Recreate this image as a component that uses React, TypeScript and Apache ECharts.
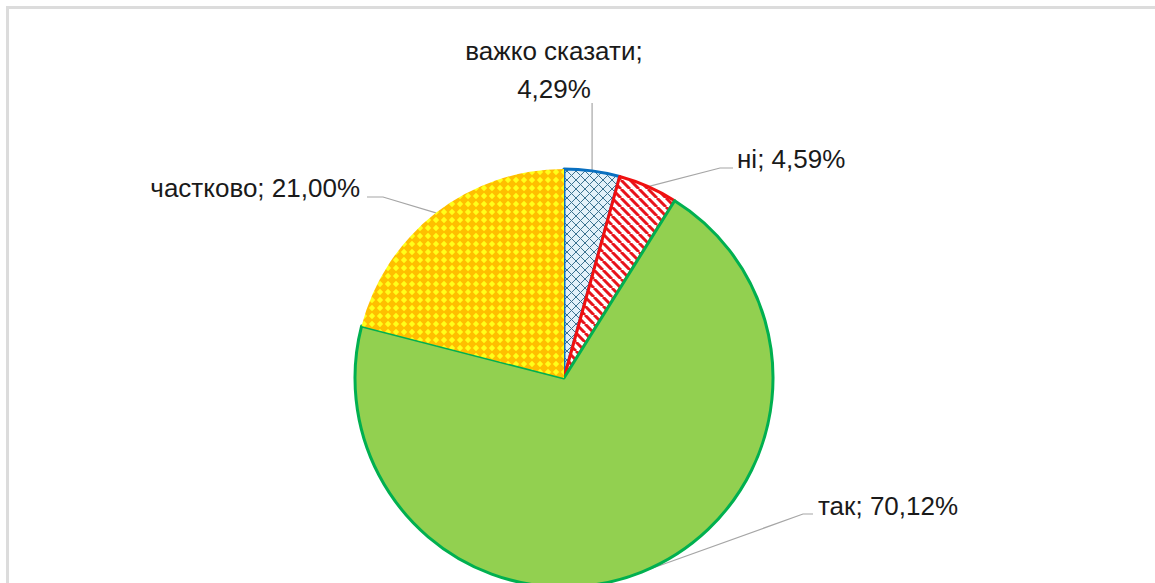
import React, { useEffect, useRef } from "react";
import * as echarts from "echarts";

const names = ["важко сказати", "ні", "так", "частково"];
const values = [4.29, 4.59, 70.12, 21.0];
const wrapNames = ["важко сказати"];

function makeTile(size: number, draw: (ctx: CanvasRenderingContext2D, s: number) => void) {
  const c = document.createElement("canvas");
  c.width = size;
  c.height = size;
  const ctx = c.getContext("2d")!;
  draw(ctx, size);
  return c;
}

export default function App() {
  const ref = useRef<HTMLDivElement>(null);
  useEffect(() => {
    if (!ref.current) return;
    const chart = echarts.init(ref.current, undefined, { renderer: "svg" });

    const cross = makeTile(9, (ctx, s) => {
      ctx.fillStyle = "#e3f1fa";
      ctx.fillRect(0, 0, s, s);
      ctx.strokeStyle = "#3b7290";
      ctx.lineWidth = 1;
      ctx.beginPath();
      ctx.moveTo(0, 0);
      ctx.lineTo(s, s);
      ctx.moveTo(s, 0);
      ctx.lineTo(0, s);
      ctx.stroke();
    });
    const stripes = makeTile(9, (ctx, s) => {
      ctx.fillStyle = "#ffffff";
      ctx.fillRect(0, 0, s, s);
      ctx.strokeStyle = "#e8141c";
      ctx.lineWidth = 3;
      ctx.beginPath();
      for (const k of [-s, 0, s]) {
        ctx.moveTo(k, 0);
        ctx.lineTo(k + s, s);
      }
      ctx.stroke();
    });
    const dots = makeTile(8, (ctx, s) => {
      ctx.fillStyle = "#ffbf00";
      ctx.fillRect(0, 0, s, s);
      ctx.fillStyle = "#ffff1a";
      ctx.beginPath();
      ctx.moveTo(s / 2, 0.8);
      ctx.lineTo(s - 0.8, s / 2);
      ctx.lineTo(s / 2, s - 0.8);
      ctx.lineTo(0.8, s / 2);
      ctx.closePath();
      ctx.fill();
    });

    const fills: any[] = [
      { image: cross, repeat: "repeat" },
      { image: stripes, repeat: "repeat" },
      "#92d050",
      { image: dots, repeat: "repeat" },
    ];
    const borders = ["#0a70c0", "#f01010", "#00b050", "#ffc000"];

    // label placement per data index: [x, y, align]
    const labelPos: [number, number, string][] = [
      [554, 70, "center"],
      [737, 159, "left"],
      [818, 506, "left"],
      [360, 188, "right"],
    ];

    const option: any = {
      animation: false,
      backgroundColor: "#ffffff",
      graphic: [
        {
          type: "rect",
          shape: { x: 7.5, y: 7.5, width: 1220, height: 620 },
          style: { fill: "none", stroke: "#dcdcdc", lineWidth: 3 },
          silent: true,
        },
      ],
      series: [
        {
          type: "pie",
          center: [564, 378],
          radius: 209,
          startAngle: 90,
          clockwise: true,
          avoidLabelOverlap: false,
          silent: true,
          data: names.map((n, i) => ({
            name: n,
            value: values[i],
            itemStyle: {
              color: fills[i],
              borderColor: borders[i],
              borderWidth: i === 3 ? 0 : 3,
            },
          })),
          label: {
            show: true,
            position: "outside",
            fontFamily: "'Liberation Sans', Arial, sans-serif",
            fontSize: 26,
            lineHeight: 38,
            color: "#1a1a1a",
            formatter: (p: any) => {
              const v = Number(p.value).toFixed(2).replace(".", ",") + "%";
              return p.name + ";" + (wrapNames.includes(p.name) ? "\n" : " ") + v;
            },
          },
          labelLine: {
            show: true,
            length: 20,
            length2: 10,
            lineStyle: { color: "#a6a6a6", width: 1.2 },
          },
          labelLayout: (params: any) => {
            const i = params.dataIndex;
            const [x, y, align] = labelPos[i];
            const p0 = params.labelLinePoints ? params.labelLinePoints[0] : null;
            let pts: number[][] | undefined;
            if (p0) {
              if (i === 0) pts = [p0, [p0[0], 103]];
              else if (i === 1) pts = [p0, [720, 168], [733, 168]];
              else if (i === 2) pts = [p0, [803, 514], [813, 514]];
              else pts = [p0, [383, 197], [367, 197]];
            }
            return {
              x,
              y,
              align,
              verticalAlign: "middle",
              labelLinePoints: pts,
            };
          },
          emphasis: { disabled: true },
        },
      ],
    };
    chart.setOption(option);
    return () => chart.dispose();
  }, []);
  return (
    <div
      ref={ref}
      style={{ position: "absolute", left: 0, top: 0, width: 1155, height: 583 }}
    />
  );
}
